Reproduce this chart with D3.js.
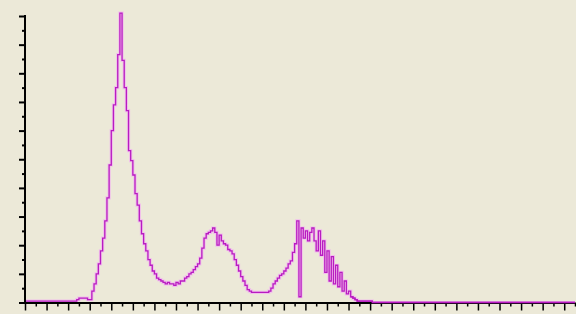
<!DOCTYPE html>
<html>
<head>
<meta charset="utf-8">
<script src="https://cdn.jsdelivr.net/npm/d3@7"></script>
<style>
  html, body { margin: 0; padding: 0; background: #ECE9D8; }
  #hist { width: 576px; height: 314px; }
</style>
</head>
<body>
<div id="hist"></div>
<script>
// histogram counts per grey level (0..255)
let counts_0_30 = [1,1,1,1,1,1,1,1,1,1, 1,1,1,1,1,1,1,1,1,1, 1,1,1,1,2,3,3,3,3,2, 2];
let counts_31_80 = [8,13,20,27,36,45,57,73,96,120, 138,150,173,202,169,150,134,106,99,89,
                    76,68,57,48,41,36,30,26,22,20, 17,16,15,14,13,14,13,13,12,14,
                    13,15,15,17,18,20,21,23,25,27];
let counts_81_125 = [31,38,45,48,49,50,52,49,40,47, 43,41,40,37,36,34,30,26,22,18,
                     15,12,9,8,7,7,7,7,7,7, 7,7,8,10,13,15,17,19,20,22,
                     24,27,29,35,41];
let counts_126_160 = [57,4,52,45,50,43,49,52,43,36, 50,33,43,21,36,15,32,13,26,11,
                      21,8,15,6,8,4,3,2,1,1, 1,1,1,1,1];
let counts_161_255 = new Array(95).fill(0);   // empty tail of the histogram

let counts = counts_0_30.concat(counts_31_80, counts_81_125, counts_126_160, counts_161_255);

let yTickValues = d3.range(0, 201, 10);   // every 10, long tick every 20
let xTickValues = d3.range(0, 256, 5);    // every 5, long tick every 10

var margin = {top: 16, left: 25},
    width = 550,
    height = 286.5;

var svg = d3.select("#hist")
  .append("svg")
    .attr("width", 576)
    .attr("height", 314)
  .append("g")
    .attr("transform", "translate(" + margin.left + "," + margin.top + ")");

var x = d3.scaleLinear()
  .domain([0, 255])
  .range([0, width]);

var y = d3.scaleLinear()
  .domain([0, 200])
  .range([height, 0]);

var data = counts.map((c, i) => ({bin: i, value: c}));

var line = d3.line()
  .x(function(d) { return x(d.bin) })
  .y(function(d) { return y(d.value) })
  .curve(d3.curveStepAfter);

// soft pink halo under the line
svg.append("path")
  .datum(data)
  .attr("d", line)
  .style("fill", "none")
  .style("stroke", "#f2b8ee")
  .style("stroke-width", 3.2)
  .style("opacity", 0.9);

svg.append("path")
  .datum(data)
  .attr("d", line)
  .style("fill", "none")
  .style("stroke", "#b81cc0")
  .style("stroke-width", 1.3);

// y axis
var yAxis = svg.append("g")
  .call(d3.axisLeft(y).tickValues(yTickValues).tickSize(6).tickFormat(""));
yAxis.selectAll(".tick line")
  .attr("x2", function(d) { return d % 20 == 0 ? -6 : -3 })
  .style("stroke", "#000")
  .style("stroke-width", 2);
yAxis.select(".domain").remove();
svg.append("line")
  .attr("x1", 0).attr("x2", 0)
  .attr("y1", y(200) - 1).attr("y2", y(0) + 1)
  .style("stroke", "#000")
  .style("stroke-width", 2);

// x axis
var xAxis = svg.append("g")
  .attr("transform", "translate(0," + (height) + ")")
  .call(d3.axisBottom(x).tickValues(xTickValues).tickSize(7).tickFormat(""));
xAxis.selectAll(".tick line")
  .attr("y2", function(d) { return d % 10 == 0 ? 8 : 4 })
  .style("stroke", "#000")
  .style("stroke-width", 1.5);
xAxis.select(".domain").remove();
svg.append("line")
  .attr("x1", 0).attr("x2", width)
  .attr("y1", height + 0.5).attr("y2", height + 0.5)
  .style("stroke", "#000")
  .style("stroke-width", 2);

// the curve sits on top of the base line
svg.append("path")
  .datum(data.filter(d => d.value == 0 || d.bin > 150))
  .attr("d", line)
  .style("fill", "none")
  .style("stroke", "#b81cc0")
  .style("stroke-width", 1.3);
</script>
</body>
</html>
